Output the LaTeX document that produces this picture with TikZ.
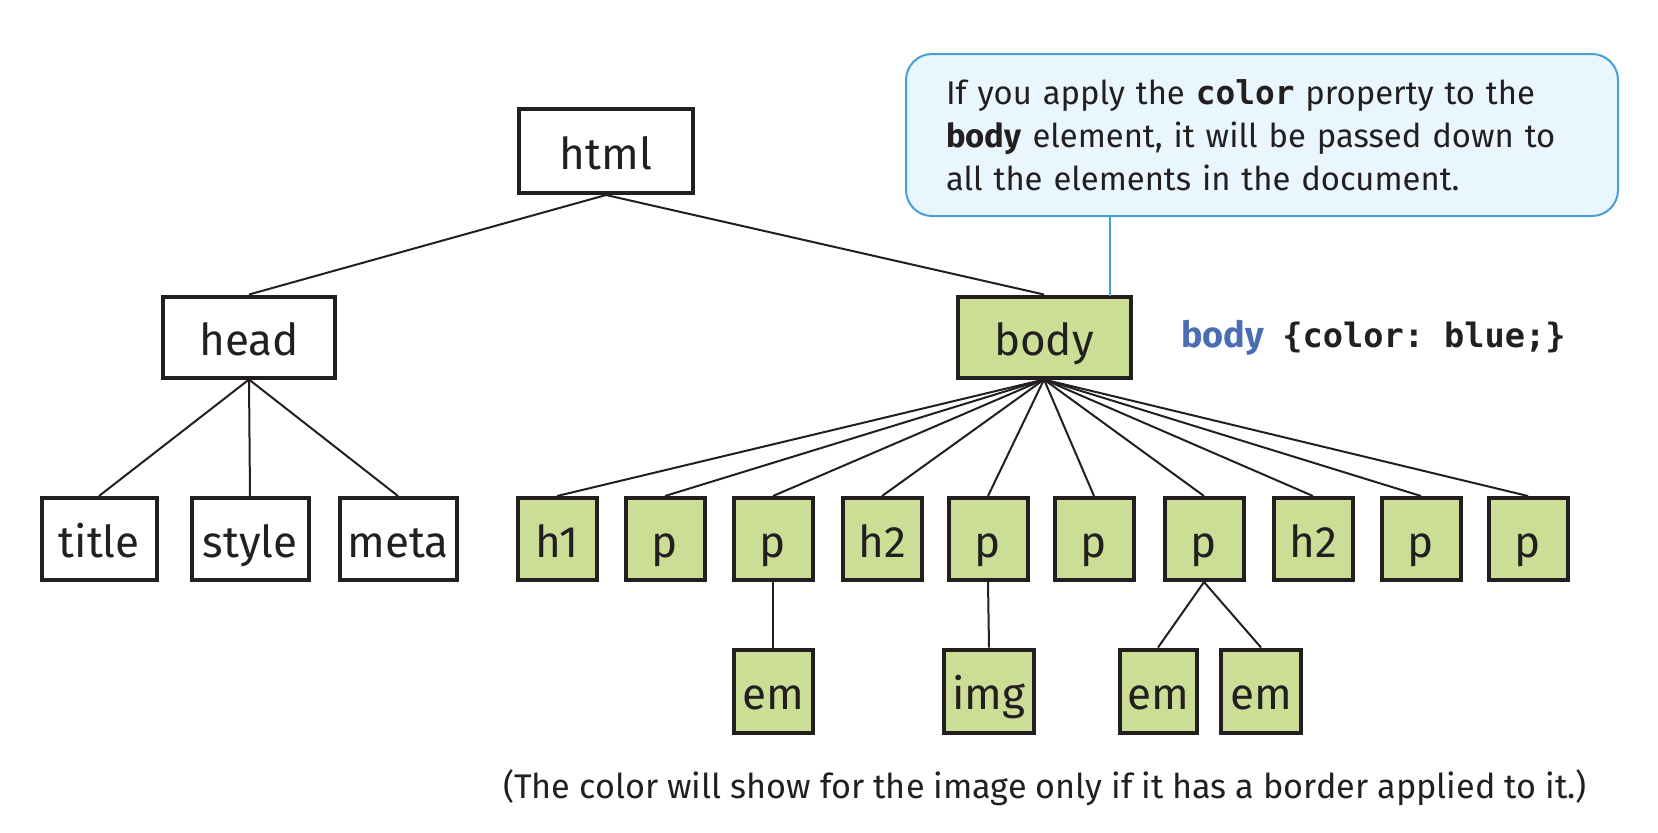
\documentclass[tikz,border=0pt]{standalone}
\usepackage{fontspec}
\setmainfont{Fira Sans}
\setmonofont{DejaVu Sans Mono}
\usepackage{xcolor}
\usepackage{tikz}
\usetikzlibrary{positioning}

\definecolor{inkgray}{HTML}{231F20}
\definecolor{leafgreen}{HTML}{CCDD96}
\definecolor{notefill}{HTML}{EAF6FD}
\definecolor{noteline}{HTML}{46A0D2}
\definecolor{codeblue}{HTML}{4A6EB4}

\begin{document}
\begin{tikzpicture}[
	x=0.5pt, y=-0.5pt,
	tag/.style={
		rectangle,
		draw=inkgray,
		line width=2pt,
		fill=white,
		text=inkgray,
		inner sep=0pt,
		text height=22pt,
		text depth=4pt,
		minimum width=39.5pt,
		minimum height=41pt,
		font=\fontsize{22}{26}\selectfont
	},
	bodytag/.style={
		tag,
		fill=leafgreen
	},
	link/.style={
		draw=inkgray,
		line width=1pt
	},
	notebox/.style={
		rectangle,
		rounded corners=13pt,
		draw=noteline,
		line width=1pt,
		fill=notefill,
		text=inkgray,
		minimum width=356pt,
		minimum height=81pt,
		inner xsep=20pt,
		text width=316pt,
		align=left,
		font=\fontsize{16.4}{21.5}\selectfont
	}
	]
	\useasboundingbox (0,0) rectangle (1658,832);
	
	% Top levels
	\node[tag, minimum width=87pt, minimum height=42pt] (html) at (606,151) {html};
	\node[tag, minimum width=86pt, minimum height=40.5pt] (head) at (249,337) {head};
	\node[bodytag, minimum width=86.5pt, minimum height=40.5pt] (body) at (1044,337) {body};
	
	% Head children
	\node[tag, minimum width=57.5pt] (title) at (99,539) {title};
	\node[tag, minimum width=58.5pt] (style) at (250,539) {style};
	\node[tag, minimum width=58.5pt] (meta) at (398,539) {meta};
	
	% Body children
	\node[bodytag] (hone) at (557,539) {h1};
	\node[bodytag] (pone) at (665,539) {p};
	\node[bodytag] (ptwo) at (773,539) {p};
	\node[bodytag] (htwo) at (882,539) {h2};
	\node[bodytag] (pthree) at (988,539) {p};
	\node[bodytag] (pfour) at (1094,539) {p};
	\node[bodytag] (pfive) at (1204,539) {p};
	\node[bodytag] (hthree) at (1313,539) {h2};
	\node[bodytag] (psix) at (1421,539) {p};
	\node[bodytag] (pseven) at (1528,539) {p};
	
	% Grandchildren
	\node[bodytag, minimum height=41.5pt] (emone) at (773,691) {em};
	\node[bodytag, minimum width=45pt, minimum height=41.5pt] (img) at (989,691) {img};
	\node[bodytag, minimum width=38.5pt, minimum height=41.5pt] (emtwo) at (1158,691) {em};
	\node[bodytag, minimum width=40pt, minimum height=41.5pt] (emthree) at (1261,691) {em};
	
	% Connectors
	\draw[link] (html.south) -- (head.north);
	\draw[link] (html.south) -- (body.north);
	\draw[link] (head.south) -- (title.north);
	\draw[link] (head.south) -- (style.north);
	\draw[link] (head.south) -- (meta.north);
	\draw[link] (body.south) -- (hone.north);
	\draw[link] (body.south) -- (pone.north);
	\draw[link] (body.south) -- (ptwo.north);
	\draw[link] (body.south) -- (htwo.north);
	\draw[link] (body.south) -- (pthree.north);
	\draw[link] (body.south) -- (pfour.north);
	\draw[link] (body.south) -- (pfive.north);
	\draw[link] (body.south) -- (hthree.north);
	\draw[link] (body.south) -- (psix.north);
	\draw[link] (body.south) -- (pseven.north);
	\draw[link] (ptwo.south) -- (emone.north);
	\draw[link] (pthree.south) -- (img.north);
	\draw[link] (pfive.south) -- (emtwo.north);
	\draw[link] (pfive.south) -- (emthree.north);
	
	% Callout
	\node[notebox] (note) at (1262,135)
	{If you apply the \texttt{\bfseries color} property to the\\
	 \textbf{body} element, it will be passed down to\\
	 all the elements in the document.};
	\coordinate (notetip) at (1110,296);
	\draw[draw=noteline, line width=1pt] (notetip) -- (notetip |- note.south);
	
	% Rule
	\node[anchor=west, inner sep=0pt, text=inkgray, font=\fontsize{18}{20}\selectfont] (rule) at (1181,338)
	{\textcolor{codeblue}{\textbf{body}}\hspace{9pt}{\fontsize{16.8}{20}\selectfont\ttfamily\bfseries \{color: blue;\}}};
	
	% Caption
	\node[text=inkgray, font=\fontsize{17.1}{20}\selectfont] (caption) at (1045,788)
	{(The color will show for the image only if it has a border applied to it.)};
	
\end{tikzpicture}
\end{document}
